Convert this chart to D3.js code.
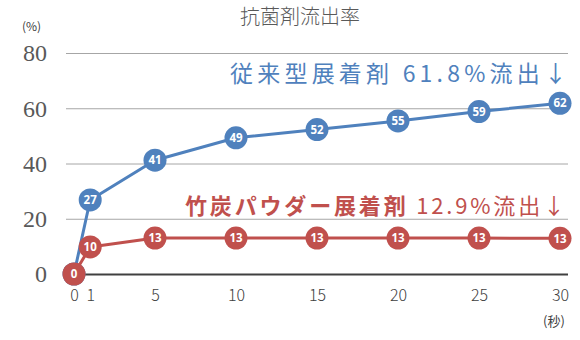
<!DOCTYPE html>
<html><head><meta charset="utf-8">
<script src="https://cdn.jsdelivr.net/npm/d3@7"></script>
<style>body{margin:0;background:#fff}svg{display:block}</style>
</head><body>
<script>
const seconds = [0, 1, 5, 10, 15, 20, 25, 30];
const conventional = [0, 26.8, 41.2, 49.3, 52.3, 55.4, 58.8, 61.8];
const bamboo = [0, 9.8, 13.0, 13.0, 13.0, 13.0, 13.0, 12.9];
const yTicks = [0, 20, 40, 60, 80];
const xTicks = [0, 1, 5, 10, 15, 20, 25, 30];
const title = "抗菌剤流出率";
const blueNote = "従来型展着剤 61.8%流出↓";
const redNoteBold = "竹炭パウダー展着剤";
const redNoteRest = " 12.9%流出↓";

const W = 580, H = 340;
const svg = d3.select("body").append("svg").attr("width", W).attr("height", H);
const x = d3.scaleLinear().domain([0, 30]).range([74, 560]);
const y = d3.scaleLinear().domain([0, 80]).range([274, 53]);
const gridL = 66, gridR = 568;
const jp = "'Noto Sans CJK JP', 'Noto Sans', sans-serif";

const yAxis = svg.append("g").attr("transform", `translate(${gridL},0)`)
  .call(d3.axisLeft(y).tickValues(yTicks).tickSize(-(gridR - gridL)).tickFormat(""));
yAxis.select(".domain").remove();
yAxis.selectAll(".tick line").attr("stroke", d => d === 0 ? "#404040" : "#a6a6a6")
  .attr("stroke-width", d => d === 0 ? 2.2 : 1);
yAxis.selectAll(".tick text").remove();

svg.append("g").selectAll("text").data(yTicks).join("text")
  .attr("x", 47).attr("y", d => y(d)).attr("dy", "0.35em").attr("text-anchor", "end")
  .attr("fill", "#595959").attr("font-family", "Liberation Serif").attr("font-size", 24)
  .text(d => d);

const xAxis = svg.append("g").attr("transform", `translate(0,${y(0)})`)
  .call(d3.axisBottom(x).tickValues(xTicks).tickSize(0).tickPadding(16).tickFormat(d3.format("d")));
xAxis.select(".domain").remove();
xAxis.selectAll(".tick text").attr("fill", "#404040")
  .style("font-family", jp).style("font-size", "16px").style("font-weight", "300");

svg.append("text").attr("x", 300).attr("y", 24).attr("text-anchor", "middle")
  .attr("fill", "#595959").style("font-family", jp).style("font-size", "20px").style("font-weight", "300").text(title);
svg.append("text").attr("x", 22).attr("y", 31).attr("fill", "#404040")
  .style("font-family", jp).style("font-size", "12px").text("(%)");
svg.append("text").attr("x", 543).attr("y", 326).attr("fill", "#404040")
  .style("font-family", jp).style("font-size", "13px").text("(秒)");

function series(vals, color) {
  const pts = seconds.map((s, i) => [s, vals[i]]);
  const line = d3.line().x(d => x(d[0])).y(d => y(d[1]));
  svg.append("path").datum(pts).attr("d", line).attr("fill", "none")
    .attr("stroke", color).attr("stroke-width", 3).attr("stroke-linejoin", "round");
  const g = svg.append("g").selectAll("g").data(pts).join("g")
    .attr("transform", d => `translate(${x(d[0])},${y(d[1])})`);
  g.append("circle").attr("r", 11.5).attr("fill", color);
  g.append("text").attr("text-anchor", "middle").attr("dy", "0.36em")
    .attr("fill", "#fff").style("font-family", "'Open Sans', 'Liberation Sans', sans-serif")
    .style("font-size", "11.5px").style("font-weight", "bold").text(d => Math.round(d[1]));
}
series(conventional, "#4f81bd");
series(bamboo, "#c0504d");

svg.append("text").attr("x", 230).attr("y", 82).attr("fill", "#4f81bd")
  .attr("textLength", 337).attr("lengthAdjust", "spacing")
  .style("font-family", jp).style("font-size", "23px").text(blueNote);
const rt = svg.append("text").attr("x", 185).attr("y", 214).attr("fill", "#c0504d")
  .attr("textLength", 380).attr("lengthAdjust", "spacing")
  .style("font-family", jp).style("font-size", "22px");
rt.append("tspan").style("font-weight", "bold").text(redNoteBold);
rt.append("tspan").text(redNoteRest);
</script>
</body></html>
